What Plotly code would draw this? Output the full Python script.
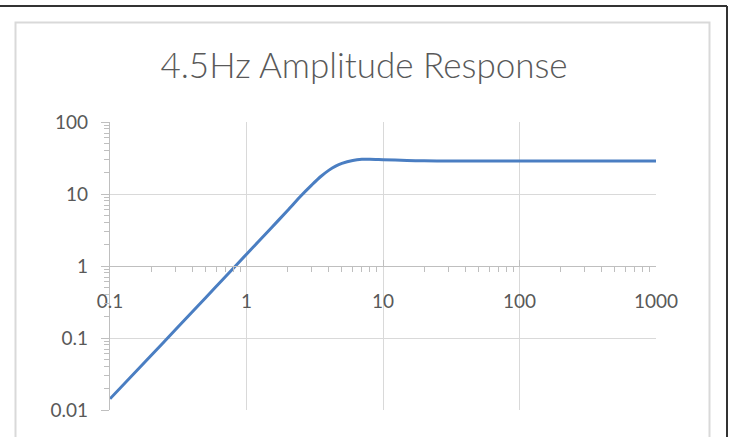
import plotly.graph_objects as go

# Frequency (Hz) and amplitude values
freq = [0.1, 0.2, 0.3, 0.5, 0.7, 1, 1.5, 2, 2.5, 3, 3.5, 4, 4.5, 5, 6, 7, 8, 10, 15, 20, 30, 50, 100, 200, 500, 1000]
amp = [0.0143, 0.057, 0.129, 0.36, 0.71, 1.46, 3.3, 5.9, 9.4, 13.3, 17.5, 21.3, 24.4, 26.6, 29.2, 30.3, 30.4, 30.0, 29.3, 28.9, 28.7, 28.7, 28.7, 28.7, 28.7, 28.7]

x_ticks = [0.1, 1, 10, 100, 1000]
x_tick_text = ["0.1", "1", "10", "100", "1000"]
y_ticks = [0.01, 0.1, 1, 10, 100]
y_tick_text = ["0.01", "0.1", "1", "10", "100"]

title_text = "4.5Hz Amplitude Response"

W, H = 731, 437
L, R, T, B = 110, 75, 122, 27
pw, ph = W - L - R, H - T - B

def px2x(px):
    return (px - L) / pw

def py2y(py):
    return (H - B - py) / ph

fig = go.Figure()
fig.add_trace(go.Scatter(
    x=freq, y=amp, mode="lines",
    line=dict(color="#4A7EC2", width=3, shape="spline", smoothing=0.8),
    showlegend=False, hoverinfo="skip",
))

font_family = "Lato, 'Open Sans', sans-serif"
tick_col = "#595959"
grid_col = "#d9d9d9"
axis_col = "#bfbfbf"

fig.update_layout(
    width=W, height=H,
    margin=dict(l=L, r=R, t=T, b=B, autoexpand=False),
    paper_bgcolor="white", plot_bgcolor="white",
    title=dict(text=title_text, x=px2x(364), xref="paper", xanchor="center",
               y=1 - 66 / H, yanchor="middle",
               font=dict(family=font_family, size=35, color=tick_col, weight=300)),
    xaxis=dict(
        type="log", range=[-1, 3],
        tickvals=x_ticks, ticktext=x_tick_text,
        tickfont=dict(family=font_family, size=19, color=tick_col),
        showgrid=True, gridcolor=grid_col, gridwidth=1.3,
        showline=True, linecolor=axis_col, linewidth=1.3,
        ticks="inside", ticklen=6, tickcolor=axis_col,
        minor=dict(ticks="outside", ticklen=5, tickcolor=axis_col, showgrid=False,
                   tickvals=[m * 10 ** e for e in range(-1, 3) for m in range(2, 10)]),
        anchor="free", position=0.5,
        ticklabelstandoff=18,
        zeroline=False, fixedrange=True,
    ),
    yaxis=dict(
        type="log", range=[-2, 2],
        tickvals=y_ticks, ticktext=y_tick_text,
        tickfont=dict(family=font_family, size=19, color=tick_col),
        showgrid=True, gridcolor=grid_col, gridwidth=1.3,
        showline=True, linecolor=axis_col, linewidth=1.3,
        ticks="outside", ticklen=8, tickcolor=axis_col,
        minor=dict(ticks="outside", ticklen=5, tickcolor=axis_col, showgrid=False,
                   tickvals=[m * 10 ** e for e in range(-2, 2) for m in range(2, 10)]),
        ticklabelstandoff=9,
        zeroline=False, fixedrange=True,
    ),
    shapes=[
        # inner light chart border
        dict(type="rect", xref="paper", yref="paper",
             x0=px2x(15.5), x1=px2x(709.5), y0=py2y(460), y1=py2y(22.5),
             line=dict(color="#d9d9d9", width=2), fillcolor="rgba(0,0,0,0)", layer="below"),
        # outer dark frame: top and right
        dict(type="line", xref="paper", yref="paper",
             x0=px2x(-5), x1=px2x(727), y0=py2y(6), y1=py2y(6),
             line=dict(color="#333333", width=2)),
        dict(type="line", xref="paper", yref="paper",
             x0=px2x(727), x1=px2x(727), y0=py2y(6), y1=py2y(460),
             line=dict(color="#333333", width=2)),
    ],
)

fig.write_html("out.html", config={"displayModeBar": False},
               post_script="document.body.style.margin='0';document.body.style.overflow='hidden';")
